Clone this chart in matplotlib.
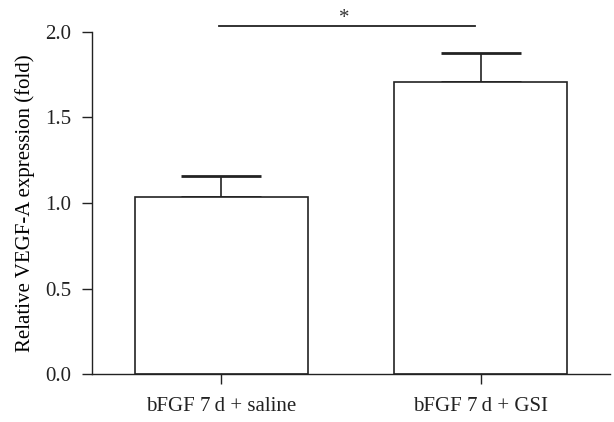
import matplotlib
matplotlib.use("Agg")
import matplotlib.pyplot as plt
import numpy as np

# datos
grupos = ["bFGF 7\u2009d + saline", "bFGF 7\u2009d + GSI"]
medias = [1.033, 1.706]
errores = [0.126, 0.171]
y_ticks = [0.0, 0.5, 1.0, 1.5, 2.0]
y_sig = 2.033

plt.rcParams["font.family"] = ["Liberation Serif", "DejaVu Serif"]
plt.rcParams["font.size"] = 15

fig = plt.figure(figsize=(6.14, 4.22), dpi=100)
ax = fig.add_axes([0.1498, 0.113, 0.8437, 0.8119])

x = np.arange(len(grupos))
ax.bar(x, medias, width=0.665, color="white", edgecolor="#222222", linewidth=1.2, zorder=2)
ax.errorbar(x, medias, yerr=[np.zeros(len(medias)), errores], fmt="none",
            ecolor="#222222", elinewidth=1.2, capsize=29, capthick=2.0, zorder=1)

# linea de significancia
ax.plot([-0.01, 0.98], [y_sig, y_sig], color="#222222", linewidth=1.3, clip_on=False)
ax.text(0.474, 2.05, "*", ha="center", va="baseline", fontsize=15, color="#333333")

ax.set_xlim(-0.5, 1.5)
ax.set_ylim(0, 2.0)
ax.set_yticks(y_ticks)
ax.set_yticklabels([f"{v:.1f}" for v in y_ticks])
ax.set_xticks(x)
ax.set_xticklabels(grupos)
ax.set_ylabel("Relative VEGF-A expression (fold)", labelpad=7)

for s in ["top", "right"]:
    ax.spines[s].set_visible(False)
for s in ["left", "bottom"]:
    ax.spines[s].set_linewidth(1.0)
    ax.spines[s].set_color("#222222")
ax.tick_params(direction="out", length=7, width=1.0, colors="#222222")
ax.tick_params(axis="y", pad=8)
ax.tick_params(axis="x", pad=9)

fig.savefig("out.png", dpi=100)
